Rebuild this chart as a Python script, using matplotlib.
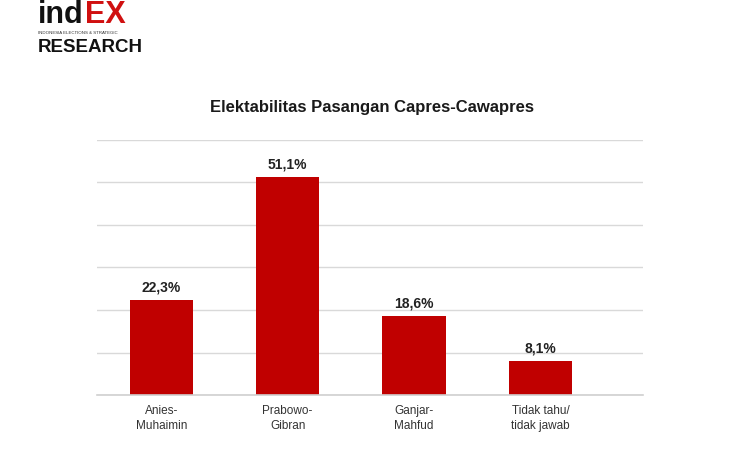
import matplotlib
matplotlib.use("Agg")
import matplotlib.pyplot as plt

# data
categories = ["Anies-\nMuhaimin", "Prabowo-\nGibran", "Ganjar-\nMahfud", "Tidak tahu/\ntidak jawab"]
values = [22.3, 51.1, 18.6, 8.1]
value_labels = ["22,3%", "51,1%", "18,6%", "8,1%"]

plt.rcParams['font.family'] = ['Liberation Sans', 'DejaVu Sans']

fig = plt.figure(figsize=(7.5, 4.5), dpi=100)
ax = fig.add_axes([0.129, 0.122, 0.728, 0.568])

x = list(range(len(categories)))
bars = ax.bar(x, values, width=0.5, color="#C00000", zorder=3)
for b, lab in zip(bars, value_labels):
    ax.annotate(lab, (b.get_x() + b.get_width() / 2, b.get_height()),
                xytext=(0, 4), textcoords="offset points",
                ha="center", va="bottom", fontsize=10, fontweight="bold",
                color="#222222")

ax.set_ylim(0, 60)
ax.set_xlim(-0.51, 3.81)
ax.set_yticks(range(0, 61, 10))
ax.yaxis.grid(True, color="#d9d9d9", linewidth=1, zorder=0)
ax.axhline(0, color="#d0d0d0", linewidth=1.2, zorder=4, clip_on=False)
ax.tick_params(axis="y", left=False, labelleft=False)
ax.tick_params(axis="x", length=0, pad=7)
ax.set_xticks(x)
ax.set_xticklabels(categories, fontsize=8.5, color="#333333", linespacing=1.35)
for s in ax.spines.values():
    s.set_visible(False)

fig.text(0.496, 0.762, "Elektabilitas Pasangan Capres-Cawapres",
         ha="center", va="center", fontsize=12, fontweight="bold", color="#1a1a1a")

# logo
fig.text(0.050, 0.948, "ind", fontsize=22, fontweight="bold", color="#111111",
         va="baseline", ha="left")
fig.text(0.113, 0.948, "EX", fontsize=22, fontweight="bold", color="#d01010",
         va="baseline", ha="left")
fig.text(0.051, 0.926, "INDONESIA ELECTIONS & STRATEGIC", fontsize=3.2,
         color="#333333", va="center", ha="left")
fig.text(0.050, 0.885, "RESEARCH", fontsize=13.5, fontweight="bold",
         color="#111111", va="baseline", ha="left")

fig.savefig("out.png", dpi=100, facecolor="white")
